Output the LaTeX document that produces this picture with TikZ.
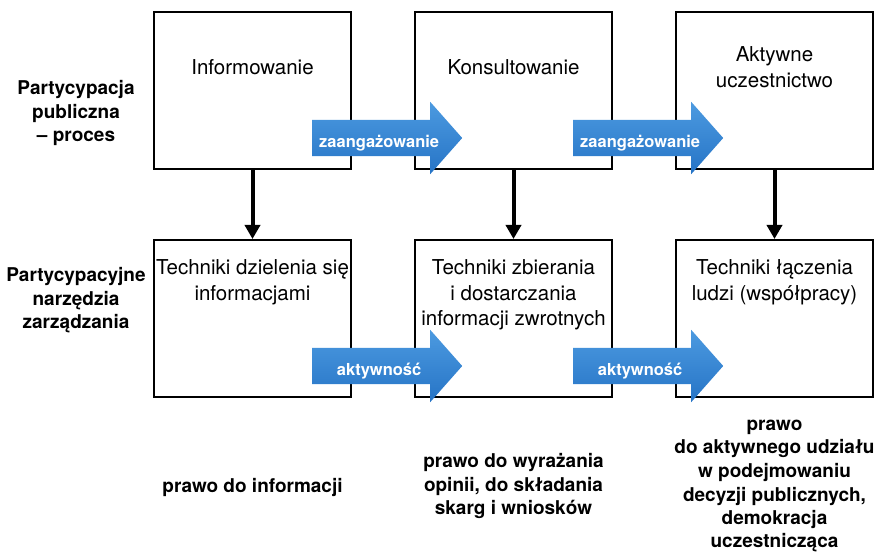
\documentclass[tikz,border=0pt]{standalone}
\usepackage{fontspec}
\setmainfont{TeX Gyre Heros}
\usepackage{xcolor}
\definecolor{movetop}{RGB}{76,154,224}
\definecolor{movebot}{RGB}{38,116,198}
\usepackage{tikz}
\usetikzlibrary{arrows.meta,positioning,shapes.arrows,calc}
\tikzset{
  stage/.style={draw,line width=2pt,minimum width=197pt,minimum height=157pt,inner sep=0pt},
  stagetext/.style={font=\fontsize{20.5}{25.5}\selectfont,align=center,inner sep=0pt},
  side/.style={font=\fontsize{19}{23.5}\selectfont\bfseries,align=center,inner sep=0pt},
  move/.style={single arrow,single arrow head extend=18pt,single arrow tip angle=97,%
    minimum height=150pt,inner xsep=0pt,inner ysep=6pt,text height=22pt,text depth=2pt,%
    draw=none,top color=movetop,bottom color=movebot,text=white,%
    font=\fontsize{16.5}{18}\selectfont\bfseries},
  down/.style={-{Triangle[width=15pt,length=14pt]},line width=4pt},
}
\begin{document}
\begin{tikzpicture}[x=1pt,y=1pt,node distance=69pt and 62pt]
\useasboundingbox (0,0) rectangle (875,554);
\node[stage] (inf) at (252.5,463.5) {};
\node[stage,right=of inf] (kons) {};
\node[stage,right=of kons] (akt) {};
\node[stage,below=of inf] (dziel) {};
\node[stage,below=of kons] (zbier) {};
\node[stage,below=of akt] (lacz) {};
\node[stagetext] (inf-t) at ($(inf.north)+(0,-56)$) {Informowanie};
\node[stagetext] (kons-t) at ($(kons.north)+(0,-56)$) {Konsultowanie};
\node[stagetext] (akt-t) at ($(akt.north)+(0,-56)$) {Aktywne\\uczestnictwo};
\node[stagetext,anchor=base] (dziel-t) at ($(dziel.north)+(0,-61.5)$) {Techniki dzielenia się\\informacjami};
\node[stagetext,anchor=base] (zbier-t) at ($(zbier.north)+(0,-87)$) {Techniki zbierania\\i dostarczania\\informacji zwrotnych};
\node[stagetext,anchor=base] (lacz-t) at ($(lacz.north)+(0,-61.5)$) {Techniki łączenia\\ludzi (współpracy)};
\node[side,anchor=base] (proces) at (76,412) {Partycypacja\\publiczna\\-- proces};
\node[side,anchor=base] (narz) at (76,225) {Partycypacyjne\\narzędzia\\zarządzania};
\node[side,anchor=base] (prawo-inf) at ($(dziel.south)+(0,-95)$) {prawo do informacji};
\node[side,anchor=base] (prawo-op) at ($(zbier.south)+(0,-117)$) {prawo do wyrażania\\opinii, do składania\\skarg i wniosków};
\node[side,anchor=base] (prawo-udz) at ($(lacz.south)+(0,-150)$) {prawo\\do aktywnego udziału\\w podejmowaniu\\decyzji publicznych,\\demokracja\\uczestnicząca};
\draw[down] (inf) -- (dziel);
\draw[down] (kons) -- (zbier);
\draw[down] (akt) -- (lacz);
\node[move,anchor=tail] (zaang1) at ($(inf.south east)+(-40,32)$) {zaangażowanie};
\node[move,anchor=tail] (zaang2) at ($(kons.south east)+(-40,32)$) {zaangażowanie};
\node[move,anchor=tail] (aktyw1) at ($(dziel.south east)+(-40,32)$) {aktywność};
\node[move,anchor=tail] (aktyw2) at ($(zbier.south east)+(-40,32)$) {aktywność};
\end{tikzpicture}
\end{document}
